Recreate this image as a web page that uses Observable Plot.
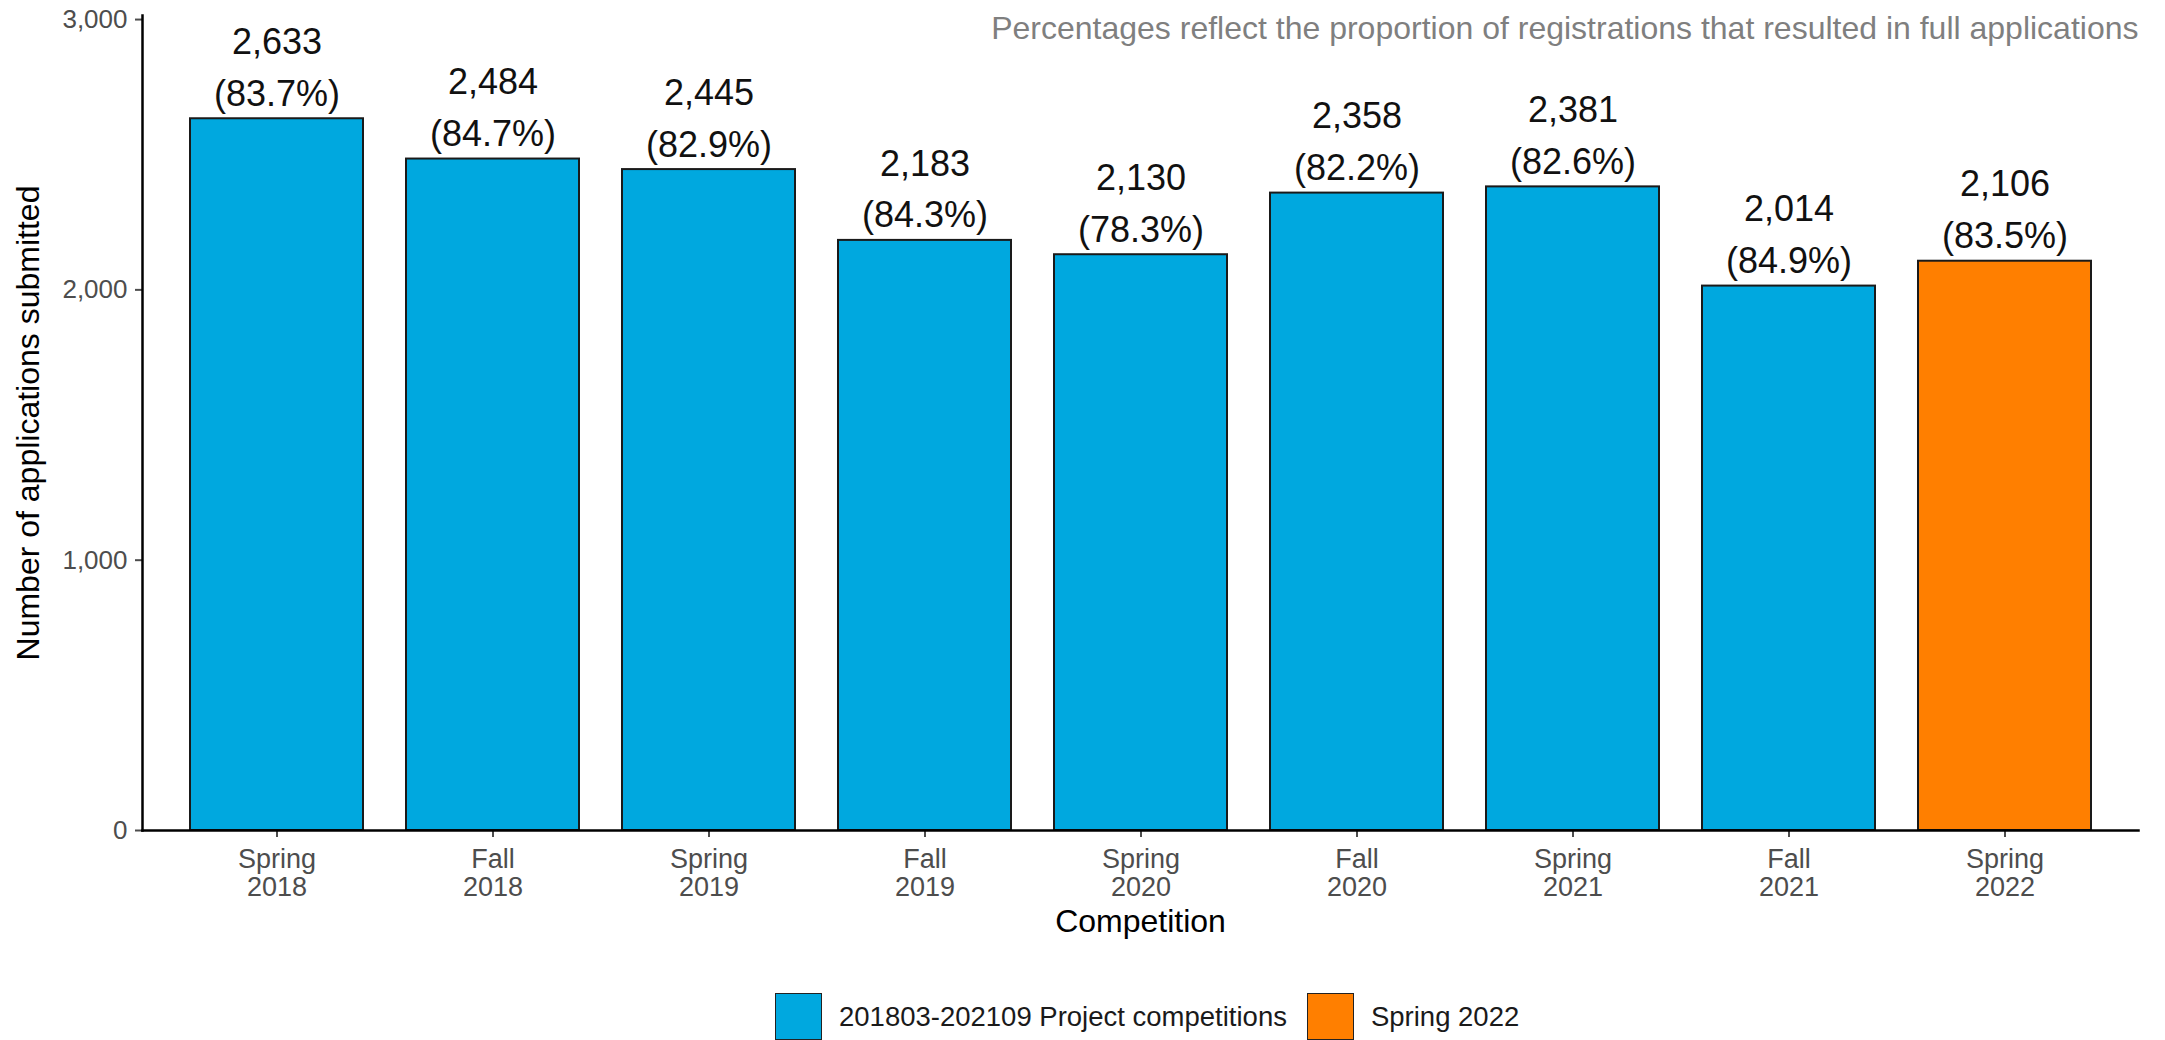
<!DOCTYPE html>
<html>
<head>
<meta charset="utf-8">
<script src="https://cdn.jsdelivr.net/npm/d3@7"></script>
<script src="https://cdn.jsdelivr.net/npm/@observablehq/plot@0.6"></script>
<style>
  html, body { margin: 0; padding: 0; background: #fff; }
  body { font-family: "Liberation Sans", Arial, sans-serif; width: 2165px; height: 1040px; overflow: hidden; position: relative; }
  #legend { position: absolute; left: 775px; top: 993px; display: flex; align-items: center; font-size: 27.5px; color: #1a1a1a; }
  .key { display: flex; align-items: center; margin-right: 20px; }
  .sw { width: 45px; height: 45px; border: 1.5px solid #222; margin-right: 17px; box-sizing: content-box; }
</style>
</head>
<body>
<div id="chart"></div>
<div id="legend"></div>
<script>
const competitions = ["Spring\n2018", "Fall\n2018", "Spring\n2019", "Fall\n2019", "Spring\n2020", "Fall\n2020", "Spring\n2021", "Fall\n2021", "Spring\n2022"];
const applications = [2633, 2484, 2445, 2183, 2130, 2358, 2381, 2014, 2106];
const percentages = [83.7, 84.7, 82.9, 84.3, 78.3, 82.2, 82.6, 84.9, 83.5];
const groups = ["201803-202109 Project competitions", "201803-202109 Project competitions", "201803-202109 Project competitions", "201803-202109 Project competitions", "201803-202109 Project competitions", "201803-202109 Project competitions", "201803-202109 Project competitions", "201803-202109 Project competitions", "Spring 2022"];
const groupNames = ["201803-202109 Project competitions", "Spring 2022"];
const groupColors = ["#00A8DF", "#FF7F00"];
const yTicks = [0, 1000, 2000, 3000];
const subtitle = "Percentages reflect the proportion of registrations that resulted in full applications";

const data = competitions.map((c, i) => ({comp: c, value: applications[i], pct: percentages[i], group: groups[i]}));
const fmt = d3.format(",d");

const chart = Plot.plot({
  width: 2165,
  height: 960,
  marginLeft: 142,
  marginRight: 27,
  marginTop: 15,
  marginBottom: 130,
  style: {fontFamily: "'Liberation Sans', Arial, sans-serif", background: "#fff"},
  x: {domain: competitions, paddingInner: 0.2, paddingOuter: 0.2, label: null},
  y: {domain: [0, 3015], label: null},
  color: {domain: groupNames, range: groupColors},
  marks: [
    Plot.barY(data, {x: "comp", y: "value", fill: "group", stroke: "#1a1a1a", strokeWidth: 2}),
    Plot.text(data, {
      x: "comp", y: "value",
      text: d => `${fmt(d.value)}\n(${d.pct.toFixed(1)}%)`,
      lineAnchor: "bottom", dy: -13, fontSize: 36, lineHeight: 1.44, fill: "#111"
    }),
    Plot.axisY({ticks: yTicks, tickFormat: fmt, tickSize: 7, tickPadding: 8, fontSize: 26, color: "#4d4d4d", label: null, strokeWidth: 2}),
    Plot.axisX({tickSize: 7, tickPadding: 10, fontSize: 27, lineHeight: 1.05, color: "#4d4d4d", label: null, strokeWidth: 2}),
    Plot.frame({anchor: "left", stroke: "#000", strokeWidth: 2.5}),
    Plot.frame({anchor: "bottom", stroke: "#000", strokeWidth: 2.5}),
    Plot.text(["Competition"], {frameAnchor: "bottom", dy: 91, lineAnchor: "middle", fontSize: 32, fill: "#000"}),
    Plot.text(["Number of applications submitted"], {frameAnchor: "left", dx: -114, rotate: -90, lineAnchor: "middle", textAnchor: "middle", fontSize: 32, fill: "#000"}),
    Plot.text([subtitle], {frameAnchor: "top-right", textAnchor: "end", lineAnchor: "top", dy: 1, fontSize: 32, fill: "#7f7f7f"})
  ]
});
document.getElementById("chart").appendChild(chart);

const legend = document.getElementById("legend");
groupNames.forEach((g, i) => {
  const k = document.createElement("div");
  k.className = "key";
  const sw = document.createElement("div");
  sw.className = "sw";
  sw.style.background = groupColors[i];
  const t = document.createElement("span");
  t.textContent = g;
  k.appendChild(sw); k.appendChild(t);
  legend.appendChild(k);
});
</script>
</body>
</html>
